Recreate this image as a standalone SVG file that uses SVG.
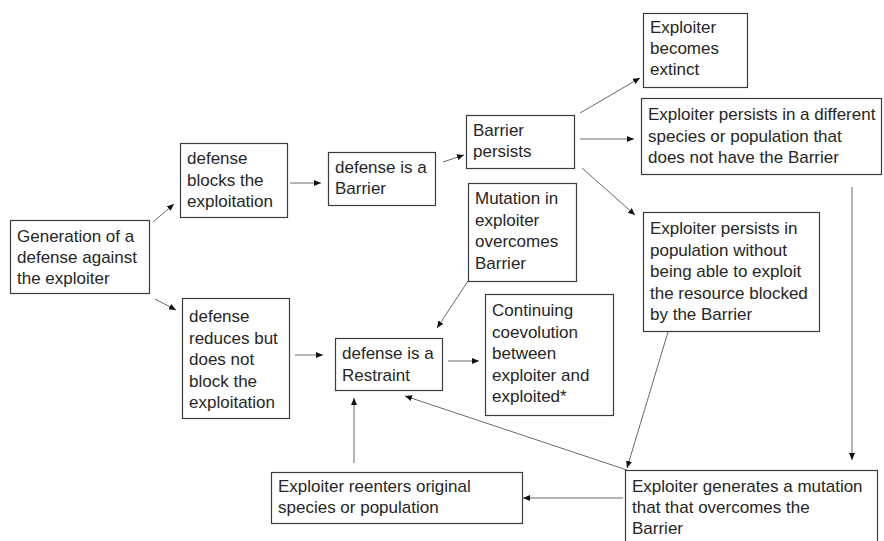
<svg xmlns="http://www.w3.org/2000/svg" width="884" height="541" viewBox="0 0 884 541">
<style>
rect.box{fill:#fff;stroke:#3c3c3c;stroke-width:1.2}
text{font-family:"Liberation Sans",Arial,sans-serif;font-size:17px;fill:#262626}
.conn line{stroke:#6a6a6a;stroke-width:1;marker-end:url(#ah)}
</style>
<defs>
<marker id="ah" markerUnits="userSpaceOnUse" markerWidth="8" markerHeight="6" refX="7" refY="3" orient="auto">
<path d="M0,0 L7,3 L0,6 Z" fill="#111"/>
</marker>
</defs>
<rect width="884" height="541" fill="#fff"/>
<g id="connectors" class="conn">
<line x1="153" y1="222" x2="174" y2="204"/>
<line x1="155" y1="299" x2="176" y2="310"/>
<line x1="290" y1="183" x2="321" y2="183"/>
<line x1="443" y1="162" x2="464" y2="155"/>
<line x1="580" y1="113" x2="640" y2="78"/>
<line x1="580" y1="139" x2="634" y2="139"/>
<line x1="582" y1="168" x2="635" y2="215"/>
<line x1="295" y1="355" x2="323" y2="355"/>
<line x1="470" y1="278" x2="437" y2="328"/>
<line x1="448" y1="361" x2="479" y2="361"/>
<line x1="627" y1="470" x2="405" y2="396"/>
<line x1="668" y1="332" x2="627" y2="468"/>
<line x1="852" y1="187" x2="852" y2="460"/>
<line x1="623" y1="498" x2="523" y2="498"/>
<line x1="354" y1="463" x2="354" y2="398"/>
</g>
<g id="gen"><rect class="box" x="10.5" y="220.5" width="139" height="73"/>
<text x="17"><tspan x="17" y="242">Generation of a</tspan><tspan x="17" y="263">defense against</tspan><tspan x="17" y="284">the exploiter</tspan></text></g>
<g id="blocks"><rect class="box" x="180.5" y="143.5" width="107" height="74"/>
<text><tspan x="187" y="164">defense</tspan><tspan x="187" y="185.5">blocks the</tspan><tspan x="187" y="207">exploitation</tspan></text></g>
<g id="reduces"><rect class="box" x="182.5" y="298.5" width="107" height="120"/>
<text><tspan x="189" y="322">defense</tspan><tspan x="189" y="343.5">reduces but</tspan><tspan x="189" y="365">does not</tspan><tspan x="189" y="386.5">block the</tspan><tspan x="189" y="408">exploitation</tspan></text></g>
<g id="barrier"><rect class="box" x="328.5" y="152.5" width="107" height="53"/>
<text><tspan x="335" y="173">defense is a</tspan><tspan x="335" y="194">Barrier</tspan></text></g>
<g id="persists"><rect class="box" x="466.5" y="115.5" width="108" height="53"/>
<text><tspan x="473" y="136">Barrier</tspan><tspan x="473" y="157">persists</tspan></text></g>
<g id="mutation"><rect class="box" x="468.5" y="183.5" width="108" height="98"/>
<text><tspan x="475" y="204">Mutation in</tspan><tspan x="475" y="225.5">exploiter</tspan><tspan x="475" y="247">overcomes</tspan><tspan x="475" y="268.5">Barrier</tspan></text></g>
<g id="restraint"><rect class="box" x="335.5" y="338.5" width="107" height="52"/>
<text><tspan x="342" y="359">defense is a</tspan><tspan x="342" y="381">Restraint</tspan></text></g>
<g id="continuing"><rect class="box" x="485.5" y="294.5" width="128" height="121"/>
<text><tspan x="492" y="316">Continuing</tspan><tspan x="492" y="337.5">coevolution</tspan><tspan x="492" y="359">between</tspan><tspan x="492" y="380.5">exploiter and</tspan><tspan x="492" y="402">exploited*</tspan></text></g>
<g id="reenters"><rect class="box" x="271.5" y="472.5" width="251" height="51"/>
<text><tspan x="278" y="492">Exploiter reenters original</tspan><tspan x="278" y="513">species or population</tspan></text></g>
<g id="extinct"><rect class="box" x="643.5" y="13.5" width="104" height="74"/>
<text><tspan x="650" y="33">Exploiter</tspan><tspan x="650" y="54">becomes</tspan><tspan x="650" y="75">extinct</tspan></text></g>
<g id="different"><rect class="box" x="641.5" y="98.5" width="240" height="76"/>
<text><tspan x="648" y="120">Exploiter persists in a different</tspan><tspan x="648" y="141.5">species or population that</tspan><tspan x="648" y="163">does not have the Barrier</tspan></text></g>
<g id="population"><rect class="box" x="643.5" y="212.5" width="176" height="119"/>
<text><tspan x="650" y="234">Exploiter persists in</tspan><tspan x="650" y="255.5">population without</tspan><tspan x="650" y="277">being able to exploit</tspan><tspan x="650" y="298.5">the resource blocked</tspan><tspan x="650" y="320">by the Barrier</tspan></text></g>
<g id="generates"><rect class="box" x="625.5" y="470.5" width="252" height="80"/>
<text><tspan x="632" y="492">Exploiter generates a mutation</tspan><tspan x="632" y="513">that that overcomes the</tspan><tspan x="632" y="534">Barrier</tspan></text></g>
</svg>
